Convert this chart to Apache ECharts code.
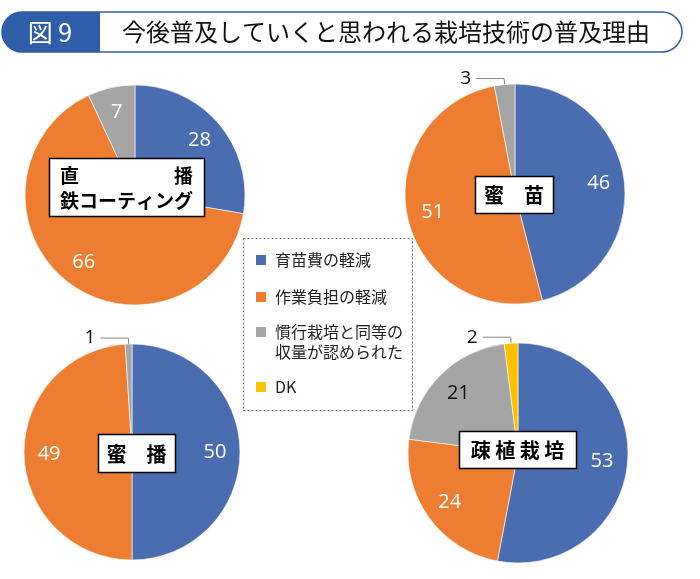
<!DOCTYPE html>
<html><head><meta charset="utf-8">
<script src="https://cdn.jsdelivr.net/npm/echarts@6/dist/echarts.min.js"></script>
<style>html,body{margin:0;padding:0;background:#fff}#c{width:700px;height:579px}</style>
</head><body><div id="c"></div>
<script>
// ---- data ----
const categories = ['育苗費の軽減', '作業負担の軽減', '慣行栽培と同等の\n収量が認められた', 'DK'];
const pieTitles = ['直　　　　　播\n鉄コーティング', '蜜　苗', '蜜　播', '疎 植 栽 培'];
const valuesChokuhaTetsu = [28, 66, 7, 0];
const valuesMitsuNae = [46, 51, 3, 0];
const valuesMitsuha = [50, 49, 1, 0];
const valuesSosyoku = [53, 24, 21, 2];
const figureNo = '図 9';
const mainTitle = '今後普及していくと思われる栽培技術の普及理由';

// ---- styles / layout ----
const colors = ['#4A6DB1', '#ED7D31', '#A5A5A5', '#FFC000'];
const FONT = '"Noto Sans CJK JP", "Noto Sans", sans-serif';
const NUMFONT = '"Open Sans", "Noto Sans", sans-serif';
const pies = [
  { values: valuesChokuhaTetsu, center: [135, 195], r: 110, box: [49, 158, 155, 58], grayInside: '#fff' },
  { values: valuesMitsuNae, center: [515, 194], r: 110, box: [475, 176, 78, 37], grayInside: '#fff' },
  { values: valuesMitsuha, center: [132, 452], r: 108, box: [98, 434, 77, 38], grayInside: '#fff' },
  { values: valuesSosyoku, center: [518, 453], r: 110, box: [459, 431, 117, 37], grayInside: '#111' }
];
const legendRowsY = [260, 297, 332, 387]; // icon centre of each legend row
const SMALL = 5;

const series = [];
// main pies
pies.forEach((p, i) => {
  const data = [];
  p.values.forEach((v, k) => {
    if (v <= 0) return;
    const small = v < SMALL;
    data.push({
      name: categories[k], value: v,
      itemStyle: { color: colors[k] },
      label: { show: small },
      labelLine: { show: small }
    });
  });
  series.push({
    type: 'pie', center: p.center, radius: [0, p.r], startAngle: 90, clockwise: true,
    avoidLabelOverlap: false, animation: false,
    itemStyle: { borderColor: '#fff', borderWidth: 0.6 },
    label: { position: 'outside', color: '#111', fontSize: 19, fontFamily: NUMFONT, formatter: '{c}' },
    labelLine: { length: 6, length2: 28, lineStyle: { color: '#888', width: 1 } },
    emphasis: { disabled: true },
    data: data
  });
});
// label overlays (transparent rings used only to place the inside value labels)
pies.forEach((p, i) => {
  const data = [];
  p.values.forEach((v, k) => {
    if (v <= 0) return;
    const small = v < SMALL;
    data.push({
      name: categories[k], value: v,
      label: { show: !small, color: k === 2 ? p.grayInside : '#fff' }
    });
  });
  series.push({
    type: 'pie', center: p.center, radius: [p.r * 0.48, p.r * 1.0], startAngle: 90, clockwise: true,
    silent: true, animation: false, legendHoverLink: false,
    itemStyle: { color: 'rgba(0,0,0,0)', borderWidth: 0 },
    label: { position: 'inside', fontSize: 20, fontFamily: NUMFONT, formatter: '{c}' },
    labelLine: { show: false },
    emphasis: { disabled: true },
    data: data
  });
});

const graphic = [
  // title bar
  { type: 'rect', shape: { x: 2, y: 12, width: 680, height: 40, r: 20 }, style: { fill: '#fff', stroke: '#2F5DA8', lineWidth: 1.5 }, z: 1 },
  { type: 'rect', shape: { x: 2, y: 12, width: 98, height: 40, r: [20, 0, 0, 20] }, style: { fill: '#2F5DA8' }, z: 2 },
  { type: 'text', x: 50, y: 32, style: { text: figureNo, fill: '#fff', font: '25px ' + FONT, textAlign: 'center', textVerticalAlign: 'middle' }, z: 3 },
  { type: 'text', x: 122, y: 32, style: { text: mainTitle, fill: '#111', font: '24px ' + FONT, textAlign: 'left', textVerticalAlign: 'middle' }, z: 3 },
  // legend frame
  { type: 'rect', shape: { x: 243.5, y: 238.5, width: 169, height: 172 }, style: { fill: '#fff', stroke: '#777', lineWidth: 1, lineDash: [2, 2] }, z: -1 }
];
// legend entries
categories.forEach((c, k) => {
  const cy = legendRowsY[k];
  graphic.push({ type: 'rect', shape: { x: 256, y: cy - 5, width: 10, height: 10 }, style: { fill: colors[k] }, z: 5 });
  graphic.push({ type: 'text', x: 275, y: cy - 10, style: { text: c, fill: '#222', font: '16px ' + FONT, lineHeight: 20, textAlign: 'left', textVerticalAlign: 'top' }, z: 5 });
});
pies.forEach((p, i) => {
  const [x, y, w, h] = p.box;
  graphic.push({ type: 'rect', shape: { x: x + 0.5, y: y + 0.5, width: w, height: h }, style: { fill: '#fff', stroke: '#000', lineWidth: 1.5 }, z: 10 });
  graphic.push({ type: 'text', x: x + w / 2, y: y + h / 2 + 1, style: { text: pieTitles[i], fill: '#000', font: 'bold ' + (i === 0 ? 19 : 20) + 'px ' + FONT, lineHeight: 25, textAlign: 'center', textVerticalAlign: 'middle' }, z: 11 });
});

const chart = echarts.init(document.getElementById('c'), null, { renderer: 'canvas' });
chart.setOption({
  backgroundColor: '#fff',
  animation: false,
  color: colors,
  graphic: graphic,
  series: series
});
</script>
</body></html>
